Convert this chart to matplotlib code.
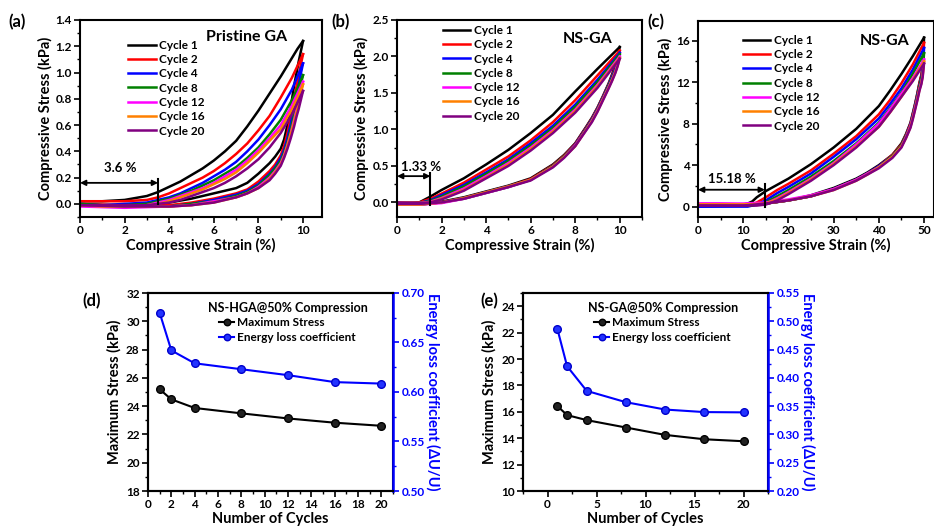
import matplotlib.pyplot as plt
from matplotlib.ticker import MultipleLocator

plt.rcParams['font.family'] = ['Lato', 'DejaVu Sans']
plt.rcParams['font.weight'] = 'bold'
plt.rcParams['axes.labelweight'] = 'bold'
plt.rcParams['axes.linewidth'] = 1.5

cycle_names = ['Cycle 1', 'Cycle 2', 'Cycle 4', 'Cycle 8', 'Cycle 12', 'Cycle 16', 'Cycle 20']
cycle_colors = ['black', '#FF0000', '#0000FF', '#008000', '#FF00FF', '#FF8000', '#800080']

# (a) pristine GA, 10 % strain
a_load_strain = [0, 1, 2, 3, 3.5, 4, 4.5, 5, 5.5, 6, 6.5, 7, 7.5, 8, 8.5, 9, 9.5, 9.75, 10]
a_load = [
    [0.02, 0.02, 0.03, 0.06, 0.09, 0.13, 0.17, 0.22, 0.27, 0.33, 0.40, 0.48, 0.59, 0.71, 0.84, 0.97, 1.11, 1.18, 1.24],
    [0.02, 0.02, 0.02, 0.03, 0.05, 0.08, 0.12, 0.16, 0.20, 0.25, 0.31, 0.38, 0.46, 0.56, 0.67, 0.81, 0.96, 1.05, 1.14],
    [0.0, -0.01, 0.0, 0.01, 0.03, 0.05, 0.08, 0.12, 0.16, 0.21, 0.26, 0.32, 0.40, 0.49, 0.60, 0.72, 0.87, 0.97, 1.07],
    [0.0, -0.01, -0.01, 0.0, 0.02, 0.04, 0.07, 0.10, 0.14, 0.18, 0.23, 0.28, 0.35, 0.43, 0.53, 0.64, 0.79, 0.88, 0.98],
    [-0.01, -0.02, -0.02, -0.01, 0.01, 0.03, 0.06, 0.09, 0.12, 0.16, 0.21, 0.26, 0.33, 0.41, 0.50, 0.60, 0.75, 0.84, 0.93],
    [-0.01, -0.02, -0.02, -0.01, 0.0, 0.02, 0.05, 0.08, 0.11, 0.15, 0.19, 0.24, 0.31, 0.39, 0.48, 0.57, 0.72, 0.81, 0.91],
    [-0.01, -0.01, -0.01, -0.01, 0.0, 0.01, 0.03, 0.06, 0.09, 0.12, 0.16, 0.21, 0.27, 0.34, 0.43, 0.54, 0.68, 0.77, 0.86],
]
a_unload_strain = [10, 9.9, 9.8, 9.7, 9.6, 9.45, 9.3, 9.15, 9, 8.75, 8.5, 8, 7.5, 7, 6, 5, 4, 2, 0]
a_unload = [
    [1.24, 1.16, 1.08, 0.99, 0.90, 0.74, 0.60, 0.49, 0.42, 0.36, 0.31, 0.23, 0.16, 0.12, 0.08, 0.04, 0.01, -0.01, -0.01],
    [1.14, 1.06, 0.97, 0.89, 0.80, 0.66, 0.54, 0.44, 0.37, 0.30, 0.25, 0.17, 0.11, 0.08, 0.04, 0.01, -0.01, -0.01, 0.0],
    [1.07, 0.99, 0.90, 0.82, 0.74, 0.61, 0.50, 0.41, 0.35, 0.28, 0.23, 0.15, 0.10, 0.07, 0.03, 0.0, -0.02, -0.02, -0.01],
    [0.98, 0.91, 0.83, 0.76, 0.68, 0.57, 0.47, 0.39, 0.33, 0.27, 0.22, 0.14, 0.09, 0.06, 0.02, 0.0, -0.02, -0.02, -0.01],
    [0.93, 0.86, 0.78, 0.71, 0.64, 0.54, 0.45, 0.37, 0.31, 0.25, 0.20, 0.13, 0.08, 0.05, 0.02, -0.01, -0.02, -0.03, -0.02],
    [0.91, 0.84, 0.76, 0.69, 0.62, 0.53, 0.44, 0.36, 0.30, 0.24, 0.19, 0.12, 0.08, 0.05, 0.01, -0.01, -0.02, -0.02, -0.01],
    [0.86, 0.79, 0.72, 0.66, 0.59, 0.50, 0.42, 0.35, 0.29, 0.23, 0.18, 0.12, 0.08, 0.05, 0.01, -0.01, -0.02, -0.02, -0.01],
]

# (b) NS-GA, 10 % strain
b_load_strain = [0, 1, 1.5, 2, 3, 4, 5, 6, 7, 8, 9, 10]
b_load = [
    [0.0, 0.0, 0.08, 0.17, 0.33, 0.52, 0.72, 0.95, 1.20, 1.52, 1.83, 2.13],
    [0.0, 0.0, 0.05, 0.12, 0.27, 0.45, 0.63, 0.85, 1.10, 1.40, 1.74, 2.08],
    [0.0, -0.01, 0.03, 0.10, 0.24, 0.41, 0.59, 0.81, 1.05, 1.34, 1.68, 2.05],
    [0.0, -0.01, 0.02, 0.08, 0.22, 0.39, 0.57, 0.78, 1.02, 1.31, 1.65, 2.03],
    [0.0, -0.01, 0.01, 0.06, 0.19, 0.36, 0.54, 0.75, 0.99, 1.27, 1.61, 2.00],
    [0.0, -0.01, 0.0, 0.05, 0.17, 0.34, 0.52, 0.73, 0.97, 1.25, 1.59, 1.98],
    [0.0, -0.01, 0.0, 0.04, 0.16, 0.33, 0.50, 0.71, 0.95, 1.23, 1.57, 1.97],
]
b_unload_strain = [10, 9.9, 9.8, 9.65, 9.5, 9.25, 9, 8.75, 8.5, 8, 7.5, 7, 6, 5, 4, 3, 2, 1, 0]
b_unload = [
    [2.13, 2.00, 1.88, 1.75, 1.63, 1.46, 1.30, 1.16, 1.04, 0.81, 0.65, 0.52, 0.33, 0.23, 0.15, 0.07, 0.01, -0.02, -0.02],
    [2.08, 1.96, 1.85, 1.73, 1.62, 1.45, 1.29, 1.15, 1.03, 0.80, 0.64, 0.51, 0.32, 0.22, 0.14, 0.06, 0.0, -0.03, -0.03],
    [2.05, 1.93, 1.83, 1.72, 1.61, 1.44, 1.28, 1.14, 1.02, 0.79, 0.63, 0.50, 0.31, 0.22, 0.14, 0.06, 0.0, -0.03, -0.03],
    [2.03, 1.91, 1.81, 1.70, 1.60, 1.43, 1.27, 1.13, 1.01, 0.78, 0.63, 0.50, 0.31, 0.21, 0.13, 0.05, 0.0, -0.03, -0.03],
    [2.00, 1.89, 1.79, 1.68, 1.58, 1.42, 1.26, 1.12, 1.00, 0.78, 0.62, 0.49, 0.31, 0.21, 0.13, 0.05, -0.01, -0.03, -0.03],
    [1.98, 1.87, 1.78, 1.67, 1.57, 1.41, 1.25, 1.11, 1.00, 0.77, 0.62, 0.49, 0.31, 0.22, 0.14, 0.06, 0.0, -0.03, -0.03],
    [1.97, 1.86, 1.77, 1.66, 1.56, 1.40, 1.24, 1.10, 0.99, 0.77, 0.61, 0.48, 0.30, 0.21, 0.13, 0.05, 0.0, -0.02, -0.02],
]

# (c) NS-GA, 50 % strain
c_load_strain = [0, 5, 10, 11, 12, 13, 15, 17.5, 20, 25, 30, 35, 40, 42.5, 45, 47.5, 50]
c_load = [
    [0.1, 0.1, 0.2, 0.3, 0.5, 0.9, 1.5, 2.1, 2.7, 4.1, 5.7, 7.5, 9.7, 11.2, 12.8, 14.5, 16.3],
    [0.1, 0.1, 0.1, 0.1, 0.2, 0.4, 0.9, 1.6, 2.2, 3.5, 5.1, 6.8, 8.9, 10.3, 11.9, 13.7, 15.8],
    [0.0, 0.0, 0.0, 0.0, 0.1, 0.2, 0.6, 1.3, 1.9, 3.2, 4.8, 6.5, 8.5, 9.9, 11.4, 13.2, 15.3],
    [0.1, 0.1, 0.1, 0.1, 0.1, 0.2, 0.4, 1.0, 1.6, 2.9, 4.4, 6.1, 8.1, 9.5, 11.0, 12.8, 14.8],
    [0.3, 0.3, 0.2, 0.2, 0.2, 0.2, 0.3, 0.8, 1.4, 2.7, 4.2, 6.0, 8.0, 9.4, 10.9, 12.4, 14.2],
    [0.2, 0.2, 0.2, 0.2, 0.2, 0.2, 0.3, 0.7, 1.3, 2.6, 4.1, 5.8, 7.7, 9.1, 10.6, 12.2, 14.0],
    [0.1, 0.1, 0.1, 0.1, 0.1, 0.1, 0.2, 0.6, 1.2, 2.5, 4.0, 5.7, 7.7, 9.1, 10.6, 12.1, 13.8],
]
c_unload_strain = [50, 49.85, 49.7, 49.4, 49, 48.5, 48, 47.5, 47, 46, 45, 43, 40, 37.5, 35, 30, 25, 20, 15, 10, 0]
c_unload = [
    [16.3, 14.8, 13.6, 12.7, 12.0, 10.9, 9.9, 9.0, 8.1, 7.0, 6.1, 5.0, 4.0, 3.3, 2.7, 1.8, 1.1, 0.6, 0.3, 0.1, 0.1],
    [15.8, 14.5, 13.4, 12.6, 11.9, 10.8, 9.8, 8.9, 8.0, 6.9, 6.0, 5.0, 3.9, 3.2, 2.6, 1.7, 1.0, 0.6, 0.3, 0.1, 0.1],
    [15.3, 14.2, 13.2, 12.4, 11.7, 10.7, 9.7, 8.8, 7.9, 6.8, 5.9, 4.9, 3.9, 3.2, 2.6, 1.7, 1.0, 0.6, 0.3, 0.1, 0.0],
    [14.8, 13.9, 13.0, 12.3, 11.6, 10.6, 9.6, 8.7, 7.8, 6.8, 5.9, 4.9, 3.8, 3.2, 2.6, 1.7, 1.0, 0.6, 0.3, 0.1, 0.1],
    [14.2, 13.5, 12.7, 12.0, 11.4, 10.4, 9.5, 8.6, 7.8, 6.7, 5.8, 4.8, 3.8, 3.2, 2.6, 1.7, 1.1, 0.7, 0.4, 0.3, 0.3],
    [14.0, 13.3, 12.6, 11.9, 11.3, 10.3, 9.4, 8.5, 7.7, 6.6, 5.8, 4.8, 3.8, 3.1, 2.5, 1.6, 1.0, 0.6, 0.3, 0.2, 0.2],
    [13.8, 13.2, 12.5, 11.8, 11.2, 10.2, 9.3, 8.4, 7.6, 6.6, 5.7, 4.7, 3.7, 3.1, 2.5, 1.6, 1.0, 0.6, 0.3, 0.1, 0.1],
]

# (d), (e) cycling summary
cycles = [1, 2, 4, 8, 12, 16, 20]
d_max_stress = [25.19, 24.48, 23.87, 23.49, 23.13, 22.83, 22.61]
d_energy_loss = [0.680, 0.642, 0.629, 0.623, 0.617, 0.610, 0.6085]
e_max_stress = [16.44, 15.75, 15.37, 14.81, 14.25, 13.92, 13.77]
e_energy_loss = [0.487, 0.4205, 0.377, 0.357, 0.344, 0.3395, 0.339]

fig = plt.figure(figsize=(9.34, 5.29), dpi=100)


def style_axis(ax, xmaj, xmin, ymaj, ymin):
    ax.xaxis.set_major_locator(MultipleLocator(xmaj))
    ax.xaxis.set_minor_locator(MultipleLocator(xmin))
    ax.yaxis.set_major_locator(MultipleLocator(ymaj))
    ax.yaxis.set_minor_locator(MultipleLocator(ymin))
    ax.tick_params(which='major', direction='out', length=4, width=1.2, labelsize=8.5, pad=2)
    ax.tick_params(which='minor', direction='out', length=2, width=1.0)
    for t in ax.get_xticklabels() + ax.get_yticklabels():
        t.set_fontweight('bold')


def hysteresis(rect, ls, lo, us, un, xlim, ylim, xt, yt, title, title_pos, leg_pos,
               arrow_x, arrow_y, bar_y, gap_text, text_xy):
    ax = fig.add_axes(rect)
    for i in range(len(cycle_names)):
        ax.plot(ls, lo[i], color=cycle_colors[i], lw=1.8, label=cycle_names[i])
        ax.plot(us, un[i], color=cycle_colors[i], lw=1.8)
    ax.set_xlim(*xlim)
    ax.set_ylim(*ylim)
    style_axis(ax, *xt, *yt)
    ax.set_xlabel('Compressive Strain (%)', fontsize=10.5, labelpad=1)
    ax.set_ylabel('Compressive Stress (kPa)', fontsize=10.5, labelpad=2)
    ax.text(title_pos[0], title_pos[1], title, transform=ax.transAxes, fontsize=11.5,
            fontweight='bold', ha='center', va='center')
    ax.legend(loc='upper left', bbox_to_anchor=leg_pos, frameon=False, fontsize=8.5,
              handlelength=2.3, handletextpad=0.3, labelspacing=0.28, borderpad=0,
              borderaxespad=0)
    ax.annotate('', xy=(0, arrow_y), xytext=(arrow_x, arrow_y),
                arrowprops=dict(arrowstyle='<|-|>', color='black', lw=1.3,
                                shrinkA=0, shrinkB=0, mutation_scale=8))
    ax.plot([arrow_x, arrow_x], bar_y, color='black', lw=1.5)
    ax.text(text_xy[0], text_xy[1], gap_text, fontsize=9.5, fontweight='bold',
            ha='center', va='center')
    return ax


hysteresis([80 / 934, 1 - 217 / 529, 242 / 934, 197 / 529],
           a_load_strain, a_load, a_unload_strain, a_unload,
           (0, 10.85), (-0.1, 1.4), (2, 1), (0.2, 0.1),
           'Pristine GA', (0.69, 0.914), (0.20, 0.90),
           3.5, 0.16, [0.0, 0.19], '3.6 %', (1.8, 0.27))
hysteresis([397 / 934, 1 - 217 / 529, 245 / 934, 197 / 529],
           b_load_strain, b_load, b_unload_strain, b_unload,
           (0, 11.0), (-0.2, 2.5), (2, 1), (0.5, 0.25),
           'NS-GA', (0.78, 0.905), (0.188, 0.975),
           1.5, 0.36, [-0.03, 0.40], '1.33 %', (1.1, 0.49))
hysteresis([698 / 934, 1 - 217 / 529, 236 / 934, 196 / 529],
           c_load_strain, c_load, c_unload_strain, c_unload,
           (0, 52.2), (-1.0, 17.9), (10, 5), (4, 2),
           'NS-GA', (0.79, 0.90), (0.19, 0.93),
           14.8, 1.63, [0.0, 2.2], '15.18 %', (7.5, 2.7))


def summary(rect, stress, loss, xlim, ylim, ylim2, xt, yt, y2t, title):
    ax = fig.add_axes(rect)
    l1, = ax.plot(cycles, stress, color='black', lw=1.5, marker='o', markersize=5.5,
                  markerfacecolor='#222222', markeredgecolor='black', label='Maximum Stress')
    ax.set_xlim(*xlim)
    ax.set_ylim(*ylim)
    style_axis(ax, *xt, *yt)
    ax.set_xlabel('Number of Cycles', fontsize=10.5, labelpad=1)
    ax.set_ylabel('Maximum Stress (kPa)', fontsize=10.5, labelpad=3)
    ax2 = ax.twinx()
    l2, = ax2.plot(cycles, loss, color='#0000FF', lw=1.5, marker='o', markersize=5.5,
                   markerfacecolor='#2233FF', markeredgecolor='#0000CC',
                   label='Energy loss coefficient')
    ax2.set_ylim(*ylim2)
    ax2.yaxis.set_major_locator(MultipleLocator(y2t[0]))
    ax2.yaxis.set_minor_locator(MultipleLocator(y2t[1]))
    ax2.tick_params(which='major', direction='out', length=4, width=1.2, labelsize=8.5,
                    colors='#0000FF', pad=2)
    ax2.tick_params(which='minor', direction='out', length=2, width=1.0, colors='#0000FF')
    for t in ax2.get_yticklabels():
        t.set_fontweight('bold')
    ax2.spines['right'].set_color('#0000FF')
    ax2.spines['right'].set_linewidth(1.8)
    ax2.set_ylabel('Energy loss coefficient (\u0394U/U)', color='#0000FF', fontsize=10.5,
                   rotation=270, labelpad=11)
    leg = ax2.legend(handles=[l1, l2], title=title, loc='upper center',
                     bbox_to_anchor=(0.57, 0.985), frameon=False, fontsize=8.5,
                     title_fontsize=9, handlelength=1.2, handletextpad=0.3,
                     labelspacing=0.3, borderpad=0, markerscale=0.85)
    leg.get_title().set_fontweight('bold')
    return ax


summary([148 / 934, 1 - 491 / 529, 245 / 934, 198 / 529], d_max_stress, d_energy_loss,
        (0, 21), (18, 32), (0.5, 0.7), (2, 1), (2, 1), (0.05, 0.025),
        'NS-HGA@50% Compression')
summary([523 / 934, 1 - 491 / 529, 245 / 934, 198 / 529], e_max_stress, e_energy_loss,
        (-2.5, 22.5), (10, 25), (0.2, 0.55), (5, 2.5), (2, 1), (0.05, 0.025),
        'NS-GA@50% Compression')

for lab, x, y in [('(a)', 8, 22), ('(b)', 331, 22), ('(c)', 647, 22),
                  ('(d)', 82, 301), ('(e)', 480, 301)]:
    fig.text(x / 934, 1 - y / 529, lab, fontsize=12, fontweight='bold', va='center')

fig.savefig('out.png', dpi=100)
